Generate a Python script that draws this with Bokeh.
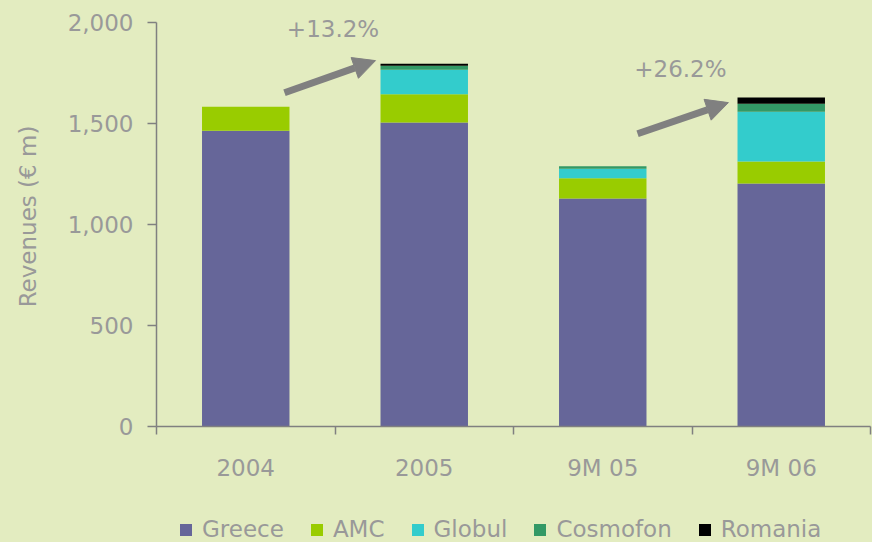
from bokeh.plotting import figure
from bokeh.layouts import column
from bokeh.models import (Range1d, FixedTicker, NumeralTickFormatter, Legend, LegendItem,
                          Arrow, NormalHead, ColumnDataSource, Label)
from bokeh.embed import file_html
from bokeh.resources import INLINE

# ---- data ----
categories = ["2004", "2005", "9M 05", "9M 06"]
greece = [1465, 1506, 1129, 1203]
amc = [119, 139, 100, 109]
globul = [0, 122, 48, 247]
cosmofon = [0, 20, 12, 40]
romania = [0, 10, 0, 30]
series_names = ["Greece", "AMC", "Globul", "Cosmofon", "Romania"]
series_colors = ["#666699", "#99CC00", "#33CCCC", "#339966", "#000000"]
y_ticks = [0, 500, 1000, 1500, 2000]
growth_labels = ["+13.2%", "+26.2%"]

BG = "#E3ECC0"
TXT = "#999999"
AX = "#808080"
FONT = "DejaVu Sans"
FS = "23px"

n = len(categories)
xs = [i + 0.5 for i in range(n)]
src = ColumnDataSource(dict(x=xs, Greece=greece, AMC=amc, Globul=globul,
                            Cosmofon=cosmofon, Romania=romania))

p = figure(width=872, height=498, x_range=Range1d(0, n), y_range=Range1d(0, 2080),
           output_backend="svg", toolbar_location=None,
           background_fill_color=BG, border_fill_color=BG,
           min_border_left=156, min_border_top=6, min_border_right=2, min_border_bottom=72)
p.styles = {"background-color": BG}
p.outline_line_color = None
p.xgrid.grid_line_color = None
p.ygrid.grid_line_color = None

renderers = p.vbar_stack(series_names, x="x", width=0.49, source=src,
                         color=series_colors, line_color=None)

# x axis
xa = p.xaxis[0]
xa.ticker = FixedTicker(ticks=xs, minor_ticks=list(range(n + 1)))
xa.major_label_overrides = {x: c for x, c in zip(xs, categories)}
xa.major_tick_line_color = None
xa.major_tick_out = 8
xa.major_tick_in = 0
xa.minor_tick_out = 8
xa.minor_tick_in = 0
xa.minor_tick_line_color = AX
xa.minor_tick_line_width = 1.5
xa.axis_line_color = AX
xa.axis_line_width = 1.5
xa.major_label_text_color = TXT
xa.major_label_text_font = FONT
xa.major_label_text_font_size = FS
xa.major_label_standoff = 20

# y axis
ya = p.yaxis[0]
ya.ticker = FixedTicker(ticks=y_ticks)
ya.bounds = (0, 2000)
ya.formatter = NumeralTickFormatter(format="0,0")
ya.major_tick_out = 9
ya.major_tick_in = 0
ya.minor_tick_line_color = None
ya.major_tick_line_color = AX
ya.major_tick_line_width = 1.5
ya.axis_line_color = AX
ya.axis_line_width = 1.5
ya.major_label_text_color = TXT
ya.major_label_text_font = FONT
ya.major_label_text_font_size = FS
ya.major_label_standoff = 14
ya.axis_label = "Revenues (€ m)"
ya.axis_label_text_color = TXT
ya.axis_label_text_font = FONT
ya.axis_label_text_font_size = FS
ya.axis_label_text_font_style = "normal"
ya.axis_label_standoff = 24

# growth arrows and labels (annotations)
head1 = NormalHead(size=22, fill_color=AX, line_color=AX)
head2 = NormalHead(size=22, fill_color=AX, line_color=AX)
p.add_layout(Arrow(end=head1, x_start=0.717, y_start=1653, x_end=1.227, y_end=1812,
                   line_color=AX, line_width=7))
p.add_layout(Arrow(end=head2, x_start=2.695, y_start=1450, x_end=3.204, y_end=1604,
                   line_color=AX, line_width=7))
p.add_layout(Label(x=0.989, y=1970, text=growth_labels[0], text_align="center",
                   text_baseline="middle", text_color=TXT, text_font=FONT, text_font_size=FS))
p.add_layout(Label(x=2.935, y=1772, text=growth_labels[1], text_align="center",
                   text_baseline="middle", text_color=TXT, text_font=FONT, text_font_size=FS))

# legend strip (separate small figure below the chart)
lg = figure(width=872, height=44, x_range=Range1d(0, n), y_range=Range1d(0, 1),
            output_backend="svg", toolbar_location=None,
            x_axis_location=None, y_axis_location=None,
            background_fill_color=BG, border_fill_color=BG,
            min_border_left=0, min_border_right=0, min_border_top=0, min_border_bottom=0)
lg.styles = {"background-color": BG}
lg.outline_line_color = None
lg.xgrid.grid_line_color = None
lg.ygrid.grid_line_color = None
# zero-height swatch renderers (only used to draw the legend keys)
swatches = [lg.vbar(x=xs, top=[0] * n, bottom=[0] * n, width=0.1, color=c, line_color=None)
            for c in series_colors]
legend = Legend(items=[LegendItem(label=nm, renderers=[r]) for nm, r in zip(series_names, swatches)],
                orientation="horizontal", location=(22, 0),
                background_fill_alpha=0, border_line_color=None,
                label_text_color=TXT, label_text_font=FONT, label_text_font_size=FS,
                glyph_width=15, glyph_height=15, label_standoff=9, spacing=25,
                padding=0, margin=0)
lg.add_layout(legend, "center")

layout = column(p, lg, spacing=0)
layout.styles = {"background-color": BG}
open("out.html", "w").write(file_html(layout, INLINE))
